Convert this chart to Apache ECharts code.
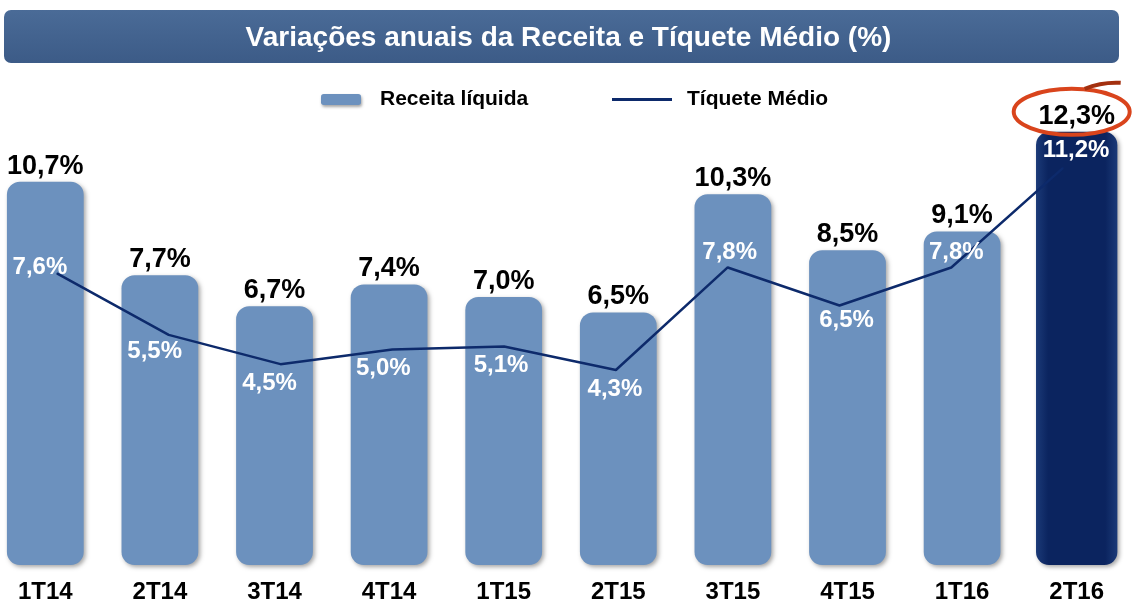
<!DOCTYPE html>
<html>
<head>
<meta charset="utf-8">
<script src="https://cdn.jsdelivr.net/npm/echarts@6/dist/echarts.min.js"></script>
<style>
  html, body { margin: 0; padding: 0; background: #fff; }
  #chart { width: 1137px; height: 599px; }
</style>
</head>
<body>
<div id="chart"></div>
<script>
// trimestres
const quarters = ['1T14', '2T14', '3T14', '4T14', '1T15', '2T15', '3T15', '4T15', '1T16', '2T16']
// variação anual da receita líquida (%)
const receita = [10.7, 7.7, 6.7, 7.4, 7.0, 6.5, 10.3, 8.5, 9.1, 12.3]
// variação anual do tíquete médio (%)
const tiquete = [7.6, 5.5, 4.5, 5.0, 5.1, 4.3, 7.8, 6.5, 7.8, 11.2]
// deslocamento dos rótulos da linha em relação ao ponto [dx, dy]
const lineLabelOffset = [[-17, -6], [-14, 17], [-11, 19], [-9, 19], [-3, 19], [-1, 19], [2, -15], [7, 15], [5, -15], [13, -17]]

const FONT = '"Liberation Sans", Arial, sans-serif'
const BAR_COLOR = '#6C91BE'
const LINE_COLOR = '#0D2A6B'

const fmt = (v) => v.toFixed(1).replace('.', ',') + '%'

const chart = echarts.init(document.getElementById('chart'))

const lastIdx = receita.length - 1

const lastBarColor = new echarts.graphic.LinearGradient(0, 0, 1, 0, [
  { offset: 0, color: '#1B3A78' },
  { offset: 0.15, color: '#0B245F' },
  { offset: 0.85, color: '#0B245F' },
  { offset: 1, color: '#1B3A78' },
])

const barData = receita.map((v, i) =>
  i === lastIdx
    ? { value: [i, v], itemStyle: { color: lastBarColor } }
    : { value: [i, v] }
)

const lineData = tiquete.map((v, i) => ({
  value: v,
  label: { offset: lineLabelOffset[i] },
}))

function renderBar(params, api) {
  const top = api.coord([api.value(0), api.value(1)])
  // o último trimestre é um pouco mais largo
  const w = api.size([1, 0])[0] * (api.value(0) === lastIdx ? 0.71 : 0.67)
  const bottom = params.coordSys.y + params.coordSys.height
  return {
    type: 'rect',
    shape: { x: top[0] - w / 2, y: top[1], width: w, height: bottom - top[1], r: 13 },
    style: {
      fill: api.visual('color'),
      shadowBlur: 4,
      shadowOffsetX: 2,
      shadowOffsetY: 2,
      shadowColor: 'rgba(0,0,0,0.35)',
    },
    textContent: {
      style: {
        text: fmt(api.value(1)),
        fill: '#000',
        font: 'bold 27px ' + FONT,
      },
    },
    textConfig: { position: 'top', distance: 2 },
  }
}

chart.setOption({
  animation: false,
  title: {
    text: 'Variações anuais da Receita e Tíquete Médio (%)',
    left: 'center',
    top: 24,
    padding: 0,
    textStyle: { color: '#fff', fontSize: 28, fontWeight: 'bold', fontFamily: FONT },
  },
  graphic: [
    {
      id: 'banner',
      type: 'rect',
      z: -1,
      shape: { x: 4, y: 10, width: 1115, height: 53, r: 7 },
      style: {
        fill: new echarts.graphic.LinearGradient(0, 0, 0, 1, [
          { offset: 0, color: '#4A6B97' },
          { offset: 1, color: '#3C5B87' },
        ]),
      },
    },
  ],
  legend: [
    {
      data: [{ name: 'Receita líquida', icon: 'roundRect', itemStyle: { color: BAR_COLOR, shadowBlur: 3, shadowOffsetX: 1, shadowOffsetY: 2, shadowColor: 'rgba(0,0,0,0.35)' } }],
      left: 321,
      top: 89,
      padding: 0,
      itemWidth: 40,
      itemHeight: 11,
      textStyle: { color: '#000', fontSize: 21, fontWeight: 'bold', fontFamily: FONT, padding: [0, 0, 0, 14] },
    },
    {
      data: [{ name: 'Tíquete Médio', icon: 'rect', itemStyle: { color: LINE_COLOR } }],
      left: 612,
      top: 89,
      padding: 0,
      itemWidth: 60,
      itemHeight: 3,
      textStyle: { color: '#000', fontSize: 21, fontWeight: 'bold', fontFamily: FONT, padding: [0, 0, 0, 10] },
    },
  ],
  grid: [
    { left: -12, right: 3, top: 60, bottom: 34, outerBoundsMode: 'none' },
    { left: 1, right: 18, top: 60, bottom: 34, outerBoundsMode: 'none' },
  ],
  xAxis: [
    {
      type: 'category',
      gridIndex: 0,
      data: quarters,
      axisLine: { show: false },
      axisTick: { show: false },
      axisLabel: { color: '#000', fontSize: 24, fontWeight: 'bold', fontFamily: FONT, margin: 15 },
    },
    {
      type: 'category',
      gridIndex: 1,
      data: quarters,
      show: false,
    },
  ],
  yAxis: [
    { type: 'value', gridIndex: 0, min: -1.605, max: 14.607, show: false, splitLine: { show: false } },
    { type: 'value', gridIndex: 1, min: -2.355, max: 14.88, show: false, splitLine: { show: false } },
  ],
  series: [
    {
      name: 'Receita líquida',
      type: 'custom',
      xAxisIndex: 0,
      yAxisIndex: 0,
      itemStyle: { color: BAR_COLOR },
      encode: { x: 0, y: 1 },
      data: barData,
      renderItem: renderBar,
    },
    {
      name: 'Tíquete Médio',
      type: 'line',
      xAxisIndex: 1,
      yAxisIndex: 1,
      data: lineData,
      symbol: 'circle',
      symbolSize: 1,
      itemStyle: { color: LINE_COLOR },
      lineStyle: { color: LINE_COLOR, width: 2.5 },
      z: 5,
      label: {
        show: true,
        position: 'inside',
        formatter: (p) => fmt(p.value),
        color: '#fff',
        fontSize: 24,
        fontWeight: 'bold',
        fontFamily: FONT,
      },
    },
  ],
})

// destaque do último trimestre
const p = chart.convertToPixel({ xAxisIndex: 0, yAxisIndex: 0 }, [lastIdx, receita[lastIdx]])
chart.setOption({
  graphic: [
    {
      id: 'ring',
      type: 'ellipse',
      z: 10,
      shape: { cx: p[0] - 5, cy: p[1] - 20, rx: 58, ry: 23 },
      style: { fill: 'none', stroke: '#D9441C', lineWidth: 4 },
    },
    {
      id: 'ringTail',
      type: 'bezierCurve',
      z: 10,
      shape: {
        x1: p[0] + 8, y1: p[1] - 43,
        x2: p[0] + 44, y2: p[1] - 49,
        cpx1: p[0] + 25, cpy1: p[1] - 50,
      },
      style: { fill: 'none', stroke: '#A3300F', lineWidth: 4 },
    },
  ],
})
</script>
</body>
</html>
